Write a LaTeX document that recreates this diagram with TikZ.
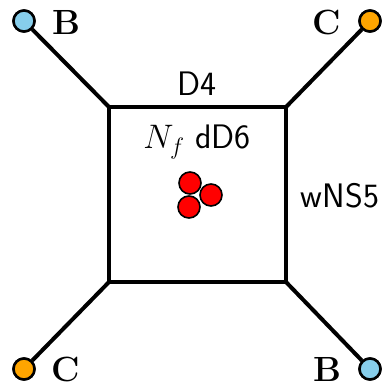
\RequirePackage{fix-cm}
\documentclass[tikz,border=0pt]{standalone}
\usepackage{fontspec}
\definecolor{bblue}{RGB}{135,206,235}
\definecolor{corange}{RGB}{255,165,0}
\begin{document}
\begin{tikzpicture}[x=1pt,y=-1pt,
  brane/.style={line width=4pt},
  endpt/.style={circle,draw=black,line width=2.5pt,minimum size=21pt,inner sep=0pt},
  sflabel/.style={font=\sffamily\fontsize{34}{38}\selectfont,inner sep=0pt},
  bclabel/.style={font=\bfseries\fontsize{35}{38}\selectfont,inner sep=0pt},
  dsix/.style={circle,draw=black,fill=red,line width=1.6pt,minimum size=22pt,inner sep=0pt}]
\useasboundingbox (0,0) rectangle (387,387);
\coordinate (tl) at (109,107);
\coordinate (tr) at (286,107);
\coordinate (br) at (286,282);
\coordinate (bl) at (109,282);
\node[endpt,fill=bblue] (e1) at (24,21) {};
\node[endpt,fill=corange] (e2) at (370,21) {};
\node[endpt,fill=corange] (e3) at (24,369) {};
\node[endpt,fill=bblue] (e4) at (370,369) {};
\draw[brane] (tl) -- (e1);
\draw[brane] (tr) -- (e2);
\draw[brane] (bl) -- (e3);
\draw[brane] (br) -- (e4);
\draw[brane,line join=miter] (tl) -- (tr) -- (br) -- (bl) -- cycle;
\node[endpt,fill=bblue] at (24,21) {};
\node[endpt,fill=corange] at (370,21) {};
\node[endpt,fill=corange] at (24,369) {};
\node[endpt,fill=bblue] at (370,369) {};
\node[bclabel] (lb1) at (66,22) {B};
\node[bclabel] (lc1) at (327,22) {C};
\node[bclabel] (lc2) at (66,369) {C};
\node[bclabel] (lb2) at (327,369) {B};
\node[sflabel] (d4) at (197,84) {D4};
\node[sflabel] (ns5) at (340,196) {wNS5};
\node[sflabel] (d6) at (197,142) {$N_f$ dD6};
\node[dsix] (r1) at (190,183) {};
\node[dsix] (r2) at (211,195) {};
\node[dsix] (r3) at (189,207) {};
\end{tikzpicture}
\end{document}
